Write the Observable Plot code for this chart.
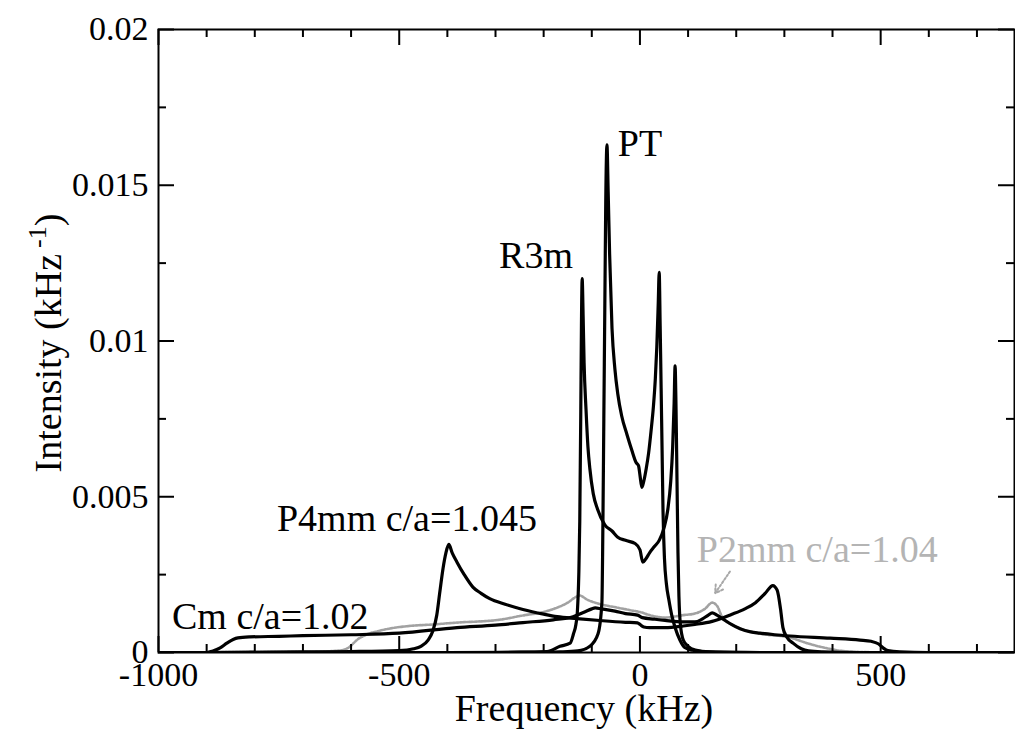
<!DOCTYPE html>
<html>
<head>
<meta charset="utf-8">
<script src="https://cdn.jsdelivr.net/npm/d3@7"></script>
<script src="https://cdn.jsdelivr.net/npm/@observablehq/plot@0.6"></script>
<style>
  html, body { margin: 0; padding: 0; background: #fff; }
  #chart svg { display: block; }
</style>
</head>
<body>
<div id="chart"></div>
<script>
// ---- Spectra: frequency (kHz) and intensity (kHz^-1) for each phase ----
const ptFreq = [-1000, -300, -200, -166, -129, -104, -87, -79, -77, -75, -73, -71, -68.5, -66, -63, -58, -52, -46, -38, -27, -17, -8, -3, 0, 4, 8, 13, 18, 23, 28, 32, 35, 38, 40, 42, 44, 46, 48, 51, 55, 60, 66, 73, 83, 93, 110, 130, 170, 250, 778];
const ptInt  = [0, 0, 0.00001, 0.00002, 0.00005, 0.0002, 0.0006, 0.0016, 0.004, 0.0075, 0.011, 0.0145, 0.0163, 0.0148, 0.0128, 0.0104, 0.0091, 0.0083, 0.0076, 0.0070, 0.0065, 0.0061, 0.0060, 0.0057, 0.0053, 0.0055, 0.0059, 0.0064, 0.0071, 0.0079, 0.0088, 0.0098, 0.0112, 0.0122, 0.0105, 0.0085, 0.0065, 0.0045, 0.0030, 0.0022, 0.0017, 0.0012, 0.0008, 0.0004, 0.00016, 0.00007, 0.00003, 0.00001, 0, 0];

const r3mFreq = [-1000, -400, -250, -193, -166, -145, -138, -133, -130, -127, -125, -123, -121.5, -120, -118, -116, -112, -108, -104, -97, -88, -73, -58, -46, -30, -10, 0, 6, 12, 20, 30, 40, 50, 58, 64, 68, 71, 73, 75, 77, 79, 81, 84, 90, 100, 115, 145, 200, 778];
const r3mInt  = [0, 0, 0.00001, 0.00003, 0.0002, 0.0003, 0.0006, 0.0009, 0.0013, 0.0025, 0.0042, 0.0075, 0.0105, 0.0120, 0.0108, 0.0093, 0.0078, 0.0066, 0.0059, 0.0051, 0.0046, 0.0041, 0.0039, 0.0037, 0.0036, 0.0035, 0.0033, 0.0029, 0.0030, 0.0032, 0.0034, 0.0036, 0.0040, 0.0046, 0.0055, 0.0066, 0.0080, 0.0092, 0.0078, 0.0055, 0.0032, 0.0018, 0.0009, 0.0004, 0.0002, 0.00008, 0.00002, 0, 0];

const p4mmFreq = [-1000, -900, -700, -600, -500, -470, -455, -440, -430, -422, -416, -409, -403, -397, -390, -380, -365, -347, -330, -312, -280, -243, -200, -172, -131, -77, -30, -5, 0, 8, 20, 52, 90, 114, 150, 190, 218, 240, 260, 276, 285, 292, 297, 305, 318, 335, 350, 380, 450, 778];
const p4mmInt  = [0, 0, 0.00002, 0.00003, 0.00006, 0.00012, 0.0002, 0.0004, 0.0007, 0.0012, 0.0019, 0.0027, 0.0032, 0.00347, 0.0032, 0.0029, 0.0025, 0.0021, 0.0019, 0.00173, 0.00155, 0.00138, 0.00123, 0.00115, 0.00109, 0.00102, 0.00097, 0.00095, 0.0009, 0.00082, 0.0008, 0.0008, 0.00085, 0.0009, 0.001, 0.00122, 0.0014, 0.0016, 0.0019, 0.00215, 0.0020, 0.0014, 0.0008, 0.0005, 0.0003, 0.00012, 0.00005, 0.00002, 0, 0];

const cmFreq = [-1000, -900, -887, -872, -858, -845, -835, -810, -750, -700, -600, -500, -380, -300, -243, -180, -139, -115, -100, -93, -80, -52, -30, -5, 5, 30, 52, 90, 114, 130, 142, 150, 160, 172, 190, 208, 230, 249, 280, 312, 395, 457, 480, 495, 505, 515, 540, 600, 778];
const cmInt  = [0, 0, 0.00005, 0.00015, 0.0003, 0.00042, 0.00047, 0.0005, 0.00052, 0.00054, 0.00057, 0.00062, 0.0008, 0.00088, 0.00096, 0.00105, 0.00115, 0.0013, 0.0014, 0.00143, 0.0014, 0.00133, 0.00125, 0.0012, 0.00112, 0.00107, 0.00103, 0.00098, 0.00098, 0.00108, 0.0012, 0.00127, 0.0012, 0.00108, 0.0009, 0.00076, 0.00066, 0.00062, 0.00057, 0.00053, 0.00046, 0.0004, 0.00036, 0.00028, 0.00015, 0.00006, 0.00002, 0, 0];

const p2mmFreq = [-1000, -800, -650, -620, -608, -598, -588, -578, -567, -540, -519, -480, -430, -380, -292, -243, -200, -172, -150, -131, -125, -110, -87, -50, -17, 0, 20, 52, 90, 114, 135, 150, 160, 172, 190, 208, 250, 312, 347, 390, 420, 480, 778];
const p2mmInt  = [0, 0.00002, 0.00004, 0.00007, 0.00013, 0.00025, 0.0004, 0.0005, 0.00058, 0.0007, 0.00077, 0.00085, 0.0009, 0.00096, 0.00105, 0.00119, 0.0013, 0.00144, 0.0016, 0.0018, 0.00183, 0.0017, 0.00157, 0.00145, 0.00135, 0.0013, 0.0012, 0.00112, 0.0012, 0.00125, 0.0014, 0.0016, 0.0015, 0.0011, 0.0009, 0.00077, 0.0006, 0.00048, 0.0003, 0.00013, 0.00005, 0.00001, 0];

// ---- Axes: tick values ----
const xMajorTicks = [-1000, -500, 0, 500];
const xMinorTicks = [-900, -800, -700, -600, -400, -300, -200, -100, 100, 200, 300, 400, 600, 700];
const yMajorTicks = [0, 0.005, 0.01, 0.015, 0.02];
const yMinorTicks = [0.0025, 0.0075, 0.0125, 0.0175];

// ---- Curve labels ----
const labelText   = ["PT", "R3m", "P4mm c/a=1.045", "Cm c/a=1.02", "P2mm c/a=1.04"];
const labelFreq   = [-46, -139, -754, -972, 118];
const labelInt    = [0.01595, 0.01233, 0.0039, 0.00074, 0.00292];
const labelAnchor = ["start", "end", "start", "start", "start"];
const labelGray   = [false, false, false, false, true];

// arrow from the P2mm label to its peak
const arrowFrom = [187, 0.0026];
const arrowTo   = [156, 0.0019];

const zipSeries = (fx, fy) => fx.map((f, i) => ({f, v: fy[i]}));
const blackSeries = [
  zipSeries(ptFreq, ptInt),
  zipSeries(r3mFreq, r3mInt),
  zipSeries(p4mmFreq, p4mmInt),
  zipSeries(cmFreq, cmInt)
];
const p2mm = zipSeries(p2mmFreq, p2mmInt);
const labels = labelText.map((t, i) => ({t, f: labelFreq[i], v: labelInt[i], a: labelAnchor[i], g: labelGray[i]}));

const font = "'Liberation Serif', 'Times New Roman', serif";

// layout
const W = 1015, H = 730, mL = 158, mR = 1, mT = 29, mB = 78;
const xDomain = [-1000, 778], yDomain = [0, 0.02];
const frameW = W - mL - mR, frameH = H - mT - mB;
const majorLen = 16, minorLen = 8;
// tick lengths expressed in data units of each axis
const dy = px => (yDomain[1] - yDomain[0]) * px / frameH;
const dx = px => (xDomain[1] - xDomain[0]) * px / frameW;

const labelMark = (anchor, gray) => Plot.text(
  labels.filter(d => d.a === anchor && d.g === gray),
  {x: "f", y: "v", text: "t", textAnchor: anchor, lineAnchor: "bottom", fontSize: 38, fill: gray ? "#b4b4b4" : "#000"}
);

// inward ticks along the bottom/top (x) and left/right (y) edges
const xTicks = (values, len) => [
  Plot.ruleX(values, {x: d => d, y1: yDomain[0], y2: yDomain[0] + dy(len), stroke: "#000", strokeWidth: 2}),
  Plot.ruleX(values, {x: d => d, y1: yDomain[1], y2: yDomain[1] - dy(len), stroke: "#000", strokeWidth: 2})
];
const yTicks = (values, len) => [
  Plot.ruleY(values, {y: d => d, x1: xDomain[0], x2: xDomain[0] + dx(len), stroke: "#000", strokeWidth: 2}),
  Plot.ruleY(values, {y: d => d, x1: xDomain[1], x2: xDomain[1] - dx(len), stroke: "#000", strokeWidth: 2})
];

const plot = Plot.plot({
  width: W,
  height: H,
  marginLeft: mL,
  marginRight: mR,
  marginTop: mT,
  marginBottom: mB,
  x: {domain: xDomain},
  y: {domain: yDomain},
  style: {fontFamily: font, background: "#fff", color: "#000"},
  marks: [
    // gray P2mm curve
    Plot.line(p2mm, {x: "f", y: "v", stroke: "#a2a2a2", strokeWidth: 2.6, strokeDasharray: "2 1.5", curve: "monotone-x", clip: true}),
    // black curves
    ...blackSeries.map(s => Plot.line(s, {x: "f", y: "v", stroke: "#000", strokeWidth: 3.2, curve: "monotone-x", clip: true})),
    // arrow
    Plot.arrow([{x1: arrowFrom[0], y1: arrowFrom[1], x2: arrowTo[0], y2: arrowTo[1]}], {
      x1: "x1", y1: "y1", x2: "x2", y2: "y2", stroke: "#a8a8a8", strokeWidth: 2, strokeDasharray: "2 2", headLength: 10
    }),
    // labels
    labelMark("start", false),
    labelMark("end", false),
    labelMark("start", true),
    // tick labels
    Plot.axisX(xMajorTicks, {anchor: "bottom", tickSize: 0, tickPadding: 9, fontSize: 34, tickFormat: d => String(d), label: null}),
    Plot.axisY(yMajorTicks, {anchor: "left", tickSize: 0, tickPadding: 10, fontSize: 34, tickFormat: d => String(d), label: null}),
    // ticks
    ...xTicks(xMajorTicks, majorLen),
    ...xTicks(xMinorTicks, minorLen),
    ...yTicks(yMajorTicks, majorLen),
    ...yTicks(yMinorTicks, minorLen),
    Plot.frame({stroke: "#000", strokeWidth: 2})
  ]
});

// axis titles
const svg = d3.select(plot);
svg.append("text")
  .attr("x", 584).attr("y", 721)
  .attr("text-anchor", "middle")
  .attr("font-family", font).attr("font-size", 38)
  .text("Frequency (kHz)");

const yTitle = svg.append("text")
  .attr("transform", "translate(61,343) rotate(-90)")
  .attr("text-anchor", "middle")
  .attr("font-family", font).attr("font-size", 38);
yTitle.append("tspan").text("Intensity (kHz");
yTitle.append("tspan").attr("font-size", 26).attr("dy", -15).attr("dx", 6).text("-1");
yTitle.append("tspan").attr("dy", 15).text(")");

document.getElementById("chart").appendChild(plot);
</script>
</body>
</html>
